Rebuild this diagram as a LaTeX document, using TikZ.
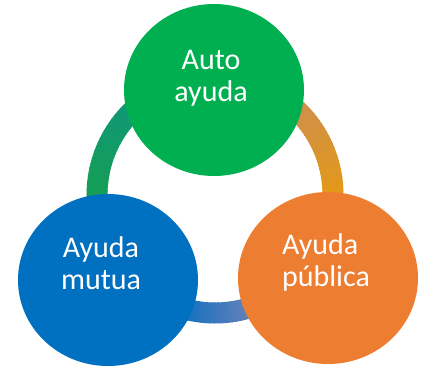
\documentclass[tikz,border=0pt]{standalone}
\usepackage{fontspec}
\setmainfont{Carlito}
\usetikzlibrary{positioning}
\usetikzlibrary{shapes.geometric}
\usepackage{xcolor}

\definecolor{autogreen}{RGB}{0,176,80}
\definecolor{mutuablue}{RGB}{0,112,192}
\definecolor{publicaorange}{RGB}{237,125,49}
\definecolor{ringgreen}{RGB}{22,160,74}
\definecolor{ringteal}{RGB}{15,150,125}
\definecolor{ringtan}{RGB}{200,140,92}
\definecolor{ringgold}{RGB}{232,155,12}
\definecolor{ringblue}{RGB}{16,112,192}
\definecolor{ringgrey}{RGB}{106,130,184}

\begin{document}
\begin{tikzpicture}[x=1pt, y=-1pt,
    bubble/.style={ellipse, inner sep=0pt, minimum width=180pt, minimum height=172pt},
    bubbletext/.style={text=white, font=\fontsize{30}{32}\selectfont},
    ringpart/.style={line width=21pt}]
    \useasboundingbox (0, 0) rectangle (422, 370);
    \coordinate (hub) at (215, 195);

    \foreach \a in {150,152,...,250} {
      \pgfmathtruncatemacro{\p}{min(100,max(0,(\a-165)/0.7))}
      \path[draw, ringpart, ringteal!\p!ringgreen] (hub) ++(\a:118) arc[start angle=\a, end angle=\a+2.6, radius=118];
    }
    \foreach \a in {250,252,...,400} {
      \pgfmathtruncatemacro{\p}{min(100,max(0,(\a-295)/0.75))}
      \path[draw, ringpart, ringgold!\p!ringtan] (hub) ++(\a:118) arc[start angle=\a, end angle=\a+2.6, radius=118];
    }
    \foreach \a in {40,42,...,150} {
      \pgfmathtruncatemacro{\p}{min(100,max(0,(\a-70)/0.35))}
      \path[draw, ringpart, ringblue!\p!ringgrey] (hub) ++(\a:118) arc[start angle=\a, end angle=\a+2.6, radius=118];
    }

    \node[bubble, fill=autogreen] (auto) at (214, 90) {};
    \node[bubble, fill=mutuablue] (mutua) at (108, 280) {};
    \node[bubble, fill=publicaorange] (publica) at (328, 278) {};

    \node[bubbletext, align=center] (autotext) at (211, 78) {Auto\\ayuda};
    \node[bubbletext, align=center] (mutuatext) at (101, 263) {Ayuda\\mutua};
    \node[bubbletext, align=left] (publicatext) at (326, 262) {Ayuda\\pública};
  \end{tikzpicture}
\end{document}
